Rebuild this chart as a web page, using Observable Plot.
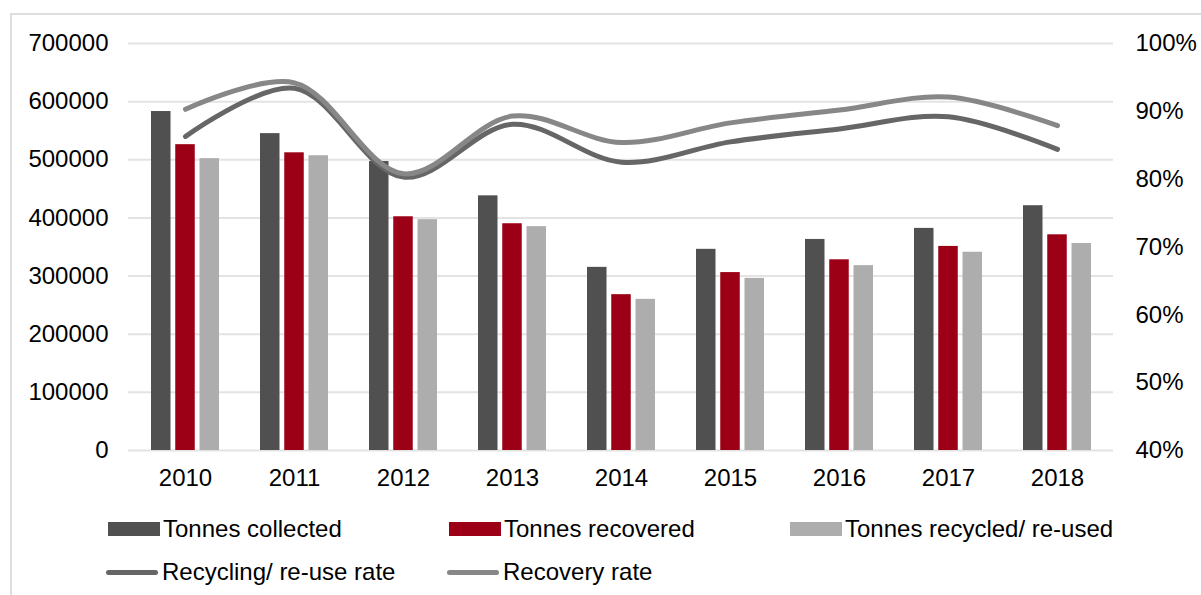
<!DOCTYPE html>
<html>
<head>
<meta charset="utf-8">
<script src="https://cdn.jsdelivr.net/npm/d3@7"></script>
<script src="https://cdn.jsdelivr.net/npm/@observablehq/plot@0.6"></script>
<style>
  body { margin: 0; background: #fff; }
  #wrap { position: relative; width: 1201px; height: 595px; overflow: hidden; font-family: "Liberation Sans", Arial, sans-serif; }
  #frame { position: absolute; left: 10px; top: 13px; width: 1300px; height: 700px; border-left: 2px solid #dedede; border-top: 2px solid #dedede; box-sizing: border-box; }
  #chart { position: absolute; left: 0; top: 0; }
  .leg { position: absolute; display: flex; align-items: center; font-size: 24px; color: #000; white-space: nowrap; }
  .sw { display: inline-block; width: 52px; height: 14px; margin-right: 3px; }
  .ln { display: inline-block; width: 52px; height: 5px; border-radius: 3px; margin-right: 4px; }
</style>
</head>
<body>
<div id="wrap">
  <div id="frame"></div>
  <div id="chart"></div>
  <div class="leg" style="left:108px; top:515px;"><span class="sw" style="background:#505050"></span>Tonnes collected</div>
  <div class="leg" style="left:449px; top:515px;"><span class="sw" style="background:#9b0016"></span>Tonnes recovered</div>
  <div class="leg" style="left:790px; top:515px;"><span class="sw" style="background:#adadad"></span>Tonnes recycled/ re-used</div>
  <div class="leg" style="left:106px; top:558px;"><span class="ln" style="background:#666666"></span>Recycling/ re-use rate</div>
  <div class="leg" style="left:447px; top:558px;"><span class="ln" style="background:#878787"></span>Recovery rate</div>
</div>
<script>
const years = ["2010","2011","2012","2013","2014","2015","2016","2017","2018"];
const collected = [583000, 545000, 497000, 438000, 315000, 346000, 363000, 382000, 421000];
const recovered = [526000, 512000, 402000, 390000, 268000, 306000, 328000, 351000, 371000];
const recycled  = [502000, 507000, 397000, 385000, 260000, 296000, 318000, 341000, 356000];
const recyclingRate = [86.3, 93.4, 80.3, 88.1, 82.5, 85.5, 87.4, 89.2, 84.4];
const recoveryRate  = [90.3, 94.2, 80.8, 89.3, 85.4, 88.3, 90.2, 92.1, 87.9];
const leftTicks = [0, 100000, 200000, 300000, 400000, 500000, 600000, 700000];
const rightTicks = [40, 50, 60, 70, 80, 90, 100];

const yMax = 700000, pMin = 40, pMax = 100;
const toY = p => (p - pMin) / (pMax - pMin) * yMax;
const fromY = v => pMin + v / yMax * (pMax - pMin);

const rows = years.map((y, i) => ({
  year: y, collected: collected[i], recovered: recovered[i], recycled: recycled[i],
  recycling: recyclingRate[i], recovery: recoveryRate[i]
}));

const chart = Plot.plot({
  width: 1201,
  height: 500,
  marginLeft: 128,
  marginRight: 88,
  marginTop: 43,
  marginBottom: 50,
  style: { fontFamily: '"Liberation Sans", Arial, sans-serif', fontSize: "24px", color: "#000", background: "transparent" },
  x: { type: "band", domain: years, paddingInner: 0.378, paddingOuter: 0.189, label: null },
  y: { domain: [0, yMax], label: null },
  marks: [
    Plot.gridY(leftTicks, { stroke: "#e3e3e3", strokeOpacity: 1, strokeWidth: 2 }),
    Plot.barY(rows, { x: "year", y: "collected", fill: "#505050", insetRight: 48.5 }),
    Plot.barY(rows, { x: "year", y: "recovered", fill: "#9b0016", insetLeft: 24.25, insetRight: 24.25 }),
    Plot.barY(rows, { x: "year", y: "recycled", fill: "#adadad", insetLeft: 48.5 }),
    Plot.line(rows, { x: "year", y: d => toY(d.recycling), stroke: "#666666", strokeWidth: 5, curve: "catmull-rom", strokeLinecap: "round" }),
    Plot.line(rows, { x: "year", y: d => toY(d.recovery), stroke: "#878787", strokeWidth: 5, curve: "catmull-rom", strokeLinecap: "round" }),
    Plot.axisY(leftTicks, { anchor: "left", tickSize: 0, tickPadding: 20, tickFormat: d => String(d), fontSize: 24, label: null }),
    Plot.axisY(rightTicks.map(toY), { anchor: "right", tickSize: 0, tickPadding: 22, tickFormat: v => Math.round(fromY(v)) + "%", fontSize: 24, label: null }),
    Plot.axisX({ tickSize: 0, tickPadding: 18, fontSize: 24, label: null })
  ]
});
document.getElementById("chart").appendChild(chart);
</script>
</body>
</html>
